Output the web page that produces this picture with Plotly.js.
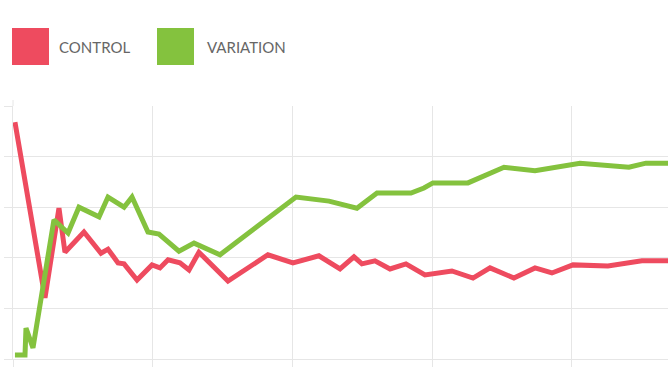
<!DOCTYPE html>
<html>
<head>
<meta charset="utf-8">
<script src="https://cdn.plot.ly/plotly-3.0.1.min.js"></script>
<style>html,body{margin:0;padding:0;background:#fff;}#chart{width:668px;height:376px;}</style>
</head>
<body>
<div id="chart"></div>
<script>
// Series names
var seriesNames = ["CONTROL", "VARIATION"];
// Control series
var controlX = [0.14, 2.29, 3.29, 3.72, 5.08, 6.30, 6.80, 7.52, 7.95, 8.88, 9.95, 10.52, 11.10, 11.95, 12.60, 13.31, 15.39, 18.25, 20.04, 21.90, 23.41, 24.41, 24.98, 25.91, 26.99, 28.13, 29.49, 31.42, 32.93, 34.15, 35.86, 37.37, 38.58, 40.09, 42.59, 45.02, 46.89];
var controlY = [4.68, 1.21, 2.98, 2.11, 2.51, 2.09, 2.17, 1.90, 1.88, 1.56, 1.86, 1.80, 1.96, 1.90, 1.76, 2.11, 1.54, 2.06, 1.90, 2.04, 1.78, 2.02, 1.88, 1.94, 1.78, 1.88, 1.66, 1.74, 1.60, 1.80, 1.60, 1.80, 1.70, 1.86, 1.84, 1.94, 1.94];
// Variation series
var variationX = [0.14, 0.86, 0.93, 1.43, 2.93, 3.94, 4.72, 6.16, 6.80, 7.95, 8.52, 9.66, 10.45, 11.88, 12.96, 14.82, 20.26, 22.62, 24.62, 26.06, 28.49, 29.42, 30.06, 32.57, 35.15, 37.37, 40.59, 44.09, 45.31, 46.89];
var variationY = [0.08, 0.08, 0.61, 0.22, 2.75, 2.49, 3.00, 2.81, 3.20, 3.00, 3.20, 2.51, 2.47, 2.13, 2.29, 2.06, 3.20, 3.12, 2.98, 3.28, 3.28, 3.38, 3.48, 3.48, 3.79, 3.72, 3.87, 3.79, 3.87, 3.87];

var RED = "#EE4B5F", GREEN = "#84C23E", GRID = "#e6e6e6";

var traces = [
  {x: controlX, y: controlY, name: seriesNames[0], type: "scatter", mode: "lines",
   line: {color: RED, width: 5}, hoverinfo: "skip"},
  {x: variationX, y: variationY, name: seriesNames[1], type: "scatter", mode: "lines",
   line: {color: GREEN, width: 5}, hoverinfo: "skip"}
];

function px2paperX(p){ return (p - 13) / 655; }
function px2paperY(p){ return (359 - p) / 253; }

var layout = {
  width: 668, height: 376,
  margin: {l: 13, r: 0, t: 106, b: 17, pad: 0},
  paper_bgcolor: "#fff", plot_bgcolor: "#fff",
  showlegend: false,
  xaxis: {range: [0, 46.89], dtick: 10, tick0: 0, showgrid: true, gridcolor: GRID, gridwidth: 1,
          zeroline: false, showline: true, linecolor: GRID, linewidth: 1,
          ticks: "outside", ticklen: 7, tickcolor: GRID, showticklabels: false, fixedrange: true},
  yaxis: {range: [0, 5], dtick: 1, tick0: 0, showgrid: true, gridcolor: GRID, gridwidth: 1,
          zeroline: false, showline: true, linecolor: GRID, linewidth: 1,
          ticks: "outside", ticklen: 8, tickcolor: GRID, showticklabels: false, fixedrange: true},
  shapes: [
    {type: "rect", xref: "paper", yref: "paper", x0: px2paperX(12), x1: px2paperX(49), y0: px2paperY(65), y1: px2paperY(28),
     fillcolor: RED, line: {width: 0}},
    {type: "rect", xref: "paper", yref: "paper", x0: px2paperX(157), x1: px2paperX(194), y0: px2paperY(65), y1: px2paperY(28),
     fillcolor: GREEN, line: {width: 0}},
    {type: "line", xref: "paper", yref: "paper", x0: 0, x1: 0, y0: 1, y1: px2paperY(100),
     line: {color: GRID, width: 1}}
  ],
  annotations: [
    {xref: "paper", yref: "paper", x: px2paperX(57), y: px2paperY(47), xanchor: "left", yanchor: "middle",
     text: seriesNames[0], showarrow: false, font: {family: "Lato, sans-serif", size: 15, color: "#666"}},
    {xref: "paper", yref: "paper", x: px2paperX(205), y: px2paperY(47), xanchor: "left", yanchor: "middle",
     text: seriesNames[1], showarrow: false, font: {family: "Lato, sans-serif", size: 15, color: "#666"}}
  ]
};

Plotly.newPlot("chart", traces, layout, {displayModeBar: false, staticPlot: true});
</script>
</body>
</html>
